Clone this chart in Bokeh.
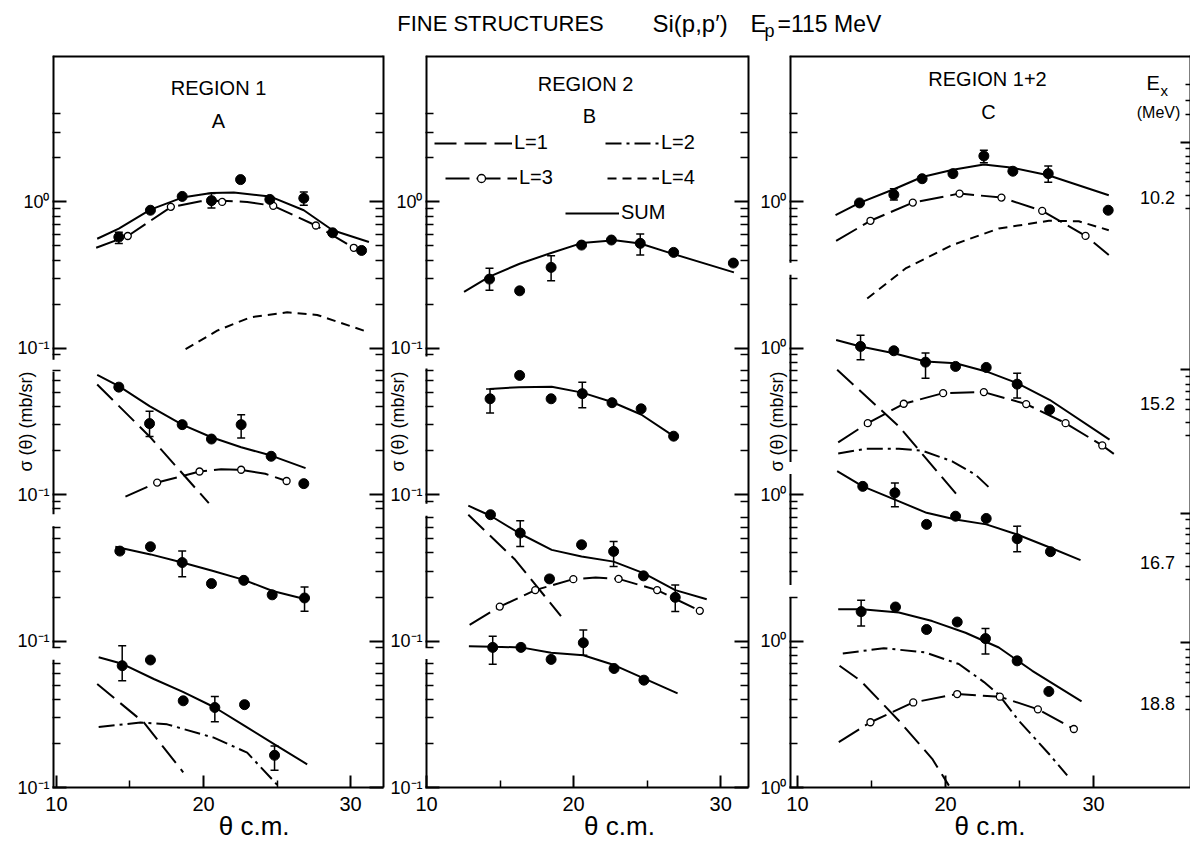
import math
from bokeh.plotting import figure
from bokeh.models import (FixedTicker, LogAxis, Label, Range1d, Whisker, TeeHead,
                          ColumnDataSource, Legend, LegendItem)
from bokeh.core.properties import value
from bokeh.layouts import column, row
from bokeh.embed import file_html
from bokeh.resources import INLINE

# ---------------- categories / tick labels ----------------
EX_LEVELS = ["10.2", "15.2", "16.7", "18.8"]
THETA_TICKS = [10, 20, 30]
THETA_MINOR = [15, 25]
Y_MAJORS = [0.1, 1, 10, 100, 1000]
Y_LABELS_AB = ["10⁻¹", "10⁻¹", "10⁻¹", "10⁻¹", "10⁰"]
Y_LABELS_C = ["10⁰", "10⁰", "10⁰", "10⁰", "10⁰"]
LEGEND_LABELS = ["L=1", "L=2", "L=3", "L=4", "SUM"]

# ---------------- panel A (region 1) ----------------
A_102_x = [14.24, 16.39, 18.55, 20.54, 22.52, 24.51, 26.82, 28.78, 30.75]
A_102_y = [0.575, 0.877, 1.09, 1.02, 1.42, 1.04, 1.06, 0.615, 0.466]
A_102_ex = [14.24, 20.54, 26.82]
A_102_elo = [0.52, 0.91, 0.95]
A_102_ehi = [0.62, 1.14, 1.17]
A_102_sum_x = [12.77, 14.24, 16.39, 18.55, 20.54, 22.06, 24.51, 26.82, 28.78, 31.25]
A_102_sum_y = [0.56, 0.656, 0.885, 1.07, 1.15, 1.16, 1.09, 0.877, 0.64, 0.532]
A_102_L3_x = [12.70, 14.85, 17.78, 19.80, 21.27, 22.97, 24.74, 27.64, 30.22]
A_102_L3_y = [0.486, 0.585, 0.92, 1.01, 1.02, 1.0, 0.94, 0.69, 0.486]
A_102_L3o_x = [14.85, 17.78, 21.27, 24.74, 27.64, 30.22]
A_102_L3o_y = [0.585, 0.925, 1.0, 0.94, 0.69, 0.486]
A_102_L4_x = [18.78, 20.93, 23.2, 25.69, 27.73, 30.9]
A_102_L4_y = [0.0986, 0.132, 0.163, 0.176, 0.169, 0.132]

A_152_x = [14.24, 16.33, 18.55, 20.54, 22.56, 24.6, 26.82]
A_152_y = [0.543, 0.306, 0.301, 0.240, 0.301, 0.183, 0.119]
A_152_ex = [16.33, 22.56]
A_152_elo = [0.25, 0.244]
A_152_ehi = [0.372, 0.352]
A_152_sum_x = [12.77, 14.24, 16.33, 18.55, 20.54, 22.56, 24.6, 26.94]
A_152_sum_y = [0.658, 0.552, 0.403, 0.301, 0.247, 0.211, 0.185, 0.152]
A_152_L1_x = [12.77, 16.33, 20.36]
A_152_L1_y = [0.566, 0.25, 0.0875]
A_152_L3_x = [14.69, 16.85, 19.73, 21.2, 22.56, 24.2, 25.65]
A_152_L3_y = [0.097, 0.121, 0.144, 0.149, 0.148, 0.139, 0.124]
A_152_L3o_x = [16.85, 19.73, 22.56, 25.65]
A_152_L3o_y = [0.121, 0.144, 0.148, 0.124]

A_167_x = [14.31, 16.39, 18.55, 20.54, 22.74, 24.67, 26.87]
A_167_y = [0.412, 0.441, 0.344, 0.247, 0.26, 0.207, 0.197]
A_167_ex = [18.55, 26.87]
A_167_elo = [0.275, 0.16]
A_167_ehi = [0.412, 0.234]
A_167_sum_x = [14.0, 16.4, 18.55, 20.6, 22.74, 24.7, 26.94]
A_167_sum_y = [0.441, 0.391, 0.344, 0.302, 0.262, 0.22, 0.193]

A_188_x = [14.47, 16.39, 18.62, 20.77, 22.79, 24.83]
A_188_y = [0.679, 0.743, 0.391, 0.352, 0.368, 0.166]
A_188_ex = [14.47, 20.77, 24.83]
A_188_elo = [0.536, 0.281, 0.131]
A_188_ehi = [0.93, 0.419, 0.192]
A_188_sum_x = [12.87, 14.47, 16.62, 18.6, 20.77, 22.8, 24.83, 27.05]
A_188_sum_y = [0.776, 0.70, 0.551, 0.45, 0.352, 0.264, 0.197, 0.144]
A_188_L1_x = [12.77, 15.94, 18.62]
A_188_L1_y = [0.509, 0.278, 0.127]
A_188_L2_x = [12.87, 15.71, 17.53, 20.7, 22.97, 25.1]
A_188_L2_y = [0.259, 0.278, 0.27, 0.219, 0.173, 0.102]

# ---------------- panel B (region 2) ----------------
B_102_x = [14.28, 16.33, 18.47, 20.54, 22.57, 24.53, 26.8, 30.86]
B_102_y = [0.297, 0.247, 0.357, 0.507, 0.549, 0.521, 0.452, 0.382]
B_102_ex = [14.28, 18.47, 24.53]
B_102_elo = [0.249, 0.289, 0.433]
B_102_ehi = [0.352, 0.429, 0.604]
B_102_sum_x = [12.55, 14.28, 16.33, 18.47, 20.54, 22.79, 24.53, 26.8, 30.9]
B_102_sum_y = [0.243, 0.309, 0.378, 0.448, 0.523, 0.548, 0.52, 0.44, 0.33]

B_152_x = [14.32, 16.33, 18.47, 20.59, 22.61, 24.59, 26.8]
B_152_y = [0.452, 0.653, 0.452, 0.49, 0.425, 0.386, 0.251]
B_152_ex = [14.32, 20.59]
B_152_elo = [0.362, 0.393]
B_152_ehi = [0.528, 0.586]
B_152_sum_x = [14.28, 16.3, 18.51, 20.59, 22.61, 24.59, 26.8]
B_152_sum_y = [0.528, 0.542, 0.547, 0.498, 0.43, 0.353, 0.251]

B_167_x = [14.35, 16.37, 18.36, 20.54, 22.72, 24.75, 26.91]
B_167_y = [0.73, 0.547, 0.266, 0.455, 0.41, 0.279, 0.199]
B_167_ex = [16.37, 22.72, 26.91]
B_167_elo = [0.443, 0.323, 0.159]
B_167_ehi = [0.664, 0.479, 0.242]
B_167_sum_x = [12.84, 14.35, 16.37, 18.51, 20.54, 22.72, 24.75, 26.91, 29.05]
B_167_sum_y = [0.841, 0.718, 0.541, 0.42, 0.378, 0.349, 0.291, 0.223, 0.193]
B_167_L1_x = [12.84, 16.03, 19.14]
B_167_L1_y = [0.73, 0.359, 0.148]
B_167_L3_x = [12.93, 14.98, 17.39, 19.98, 21.5, 23.06, 25.68, 28.58]
B_167_L3_y = [0.129, 0.172, 0.223, 0.265, 0.272, 0.266, 0.223, 0.161]
B_167_L3o_x = [14.98, 17.39, 19.98, 23.06, 25.68, 28.58]
B_167_L3o_y = [0.172, 0.223, 0.265, 0.266, 0.223, 0.161]

B_188_x = [14.5, 16.42, 18.47, 20.66, 22.75, 24.78]
B_188_y = [0.906, 0.906, 0.75, 0.974, 0.65, 0.541]
B_188_ex = [14.5, 20.66]
B_188_elo = [0.695, 0.80]
B_188_ehi = [1.08, 1.19]
B_188_sum_x = [12.88, 14.5, 16.42, 18.47, 20.66, 22.75, 24.78, 27.07]
B_188_sum_y = [0.924, 0.915, 0.906, 0.832, 0.80, 0.686, 0.556, 0.439]

# ---------------- panel C (region 1+2) ----------------
C_102_x = [14.19, 16.51, 18.42, 20.5, 22.59, 24.55, 26.94, 30.99]
C_102_y = [0.984, 1.12, 1.44, 1.56, 2.06, 1.62, 1.56, 0.877]
C_102_ex = [16.51, 22.59, 26.94]
C_102_elo = [1.03, 1.85, 1.36]
C_102_ehi = [1.23, 2.25, 1.76]
C_102_sum_x = [12.57, 14.19, 16.51, 18.42, 20.5, 22.59, 24.55, 26.94, 31.03]
C_102_sum_y = [0.811, 0.984, 1.22, 1.48, 1.66, 1.80, 1.71, 1.52, 1.11]
C_102_L3_x = [12.61, 14.93, 17.79, 20.95, 23.78, 26.53, 29.46, 31.03]
C_102_L3_y = [0.542, 0.743, 0.989, 1.14, 1.07, 0.869, 0.586, 0.434]
C_102_L3o_x = [14.93, 17.79, 20.95, 23.78, 26.53, 29.46]
C_102_L3o_y = [0.743, 0.989, 1.14, 1.07, 0.869, 0.586]
C_102_L4_x = [14.71, 17.3, 20.45, 23.6, 26.98, 29.0, 31.03]
C_102_L4_y = [0.219, 0.351, 0.507, 0.658, 0.743, 0.737, 0.641]

C_152_x = [14.26, 16.51, 18.65, 20.68, 22.75, 24.84, 27.03]
C_152_y = [1.03, 0.962, 0.804, 0.752, 0.74, 0.569, 0.381]
C_152_ex = [14.26, 18.65, 24.84]
C_152_elo = [0.834, 0.625, 0.457]
C_152_ehi = [1.23, 0.927, 0.676]
C_152_sum_x = [12.61, 14.26, 16.51, 18.65, 20.68, 22.75, 24.84, 27.03, 31.08]
C_152_sum_y = [1.14, 1.03, 0.925, 0.813, 0.79, 0.695, 0.578, 0.445, 0.238]
C_152_L1_x = [12.68, 16.85, 20.95]
C_152_L1_y = [0.713, 0.293, 0.095]
C_152_L2_x = [12.75, 14.6, 16.85, 18.42, 20.45, 22.03, 23.11]
C_152_L2_y = [0.191, 0.206, 0.206, 0.2, 0.169, 0.137, 0.108]
C_152_L3_x = [12.75, 14.75, 17.18, 19.84, 22.59, 25.45, 28.11, 30.59, 31.37]
C_152_L3_y = [0.228, 0.308, 0.418, 0.494, 0.502, 0.416, 0.308, 0.217, 0.19]
C_152_L3o_x = [14.75, 17.18, 19.84, 22.59, 25.45, 28.11, 30.59]
C_152_L3o_y = [0.308, 0.418, 0.494, 0.502, 0.416, 0.308, 0.217]

C_167_x = [14.41, 16.58, 18.72, 20.68, 22.75, 24.84, 27.09]
C_167_y = [1.14, 1.03, 0.627, 0.713, 0.688, 0.5, 0.408]
C_167_ex = [16.58, 24.84]
C_167_elo = [0.826, 0.408]
C_167_ehi = [1.2, 0.61]
C_167_sum_x = [12.68, 14.41, 16.58, 18.72, 20.68, 22.75, 24.84, 27.09, 29.12]
C_167_sum_y = [1.45, 1.14, 0.925, 0.752, 0.678, 0.627, 0.535, 0.434, 0.357]

C_188_x = [14.3, 16.62, 18.72, 20.79, 22.7, 24.84, 26.98]
C_188_y = [1.59, 1.71, 1.2, 1.35, 1.04, 0.733, 0.453]
C_188_ex = [14.3, 22.7]
C_188_elo = [1.27, 0.815]
C_188_ehi = [1.9, 1.22]
C_188_sum_x = [12.75, 14.35, 16.85, 19.1, 21.35, 23.6, 25.86, 29.19]
C_188_sum_y = [1.65, 1.65, 1.57, 1.37, 1.14, 0.904, 0.627, 0.387]
C_188_L1_x = [12.84, 14.26, 16.85, 19.1, 20.23]
C_188_L1_y = [0.678, 0.536, 0.286, 0.157, 0.103]
C_188_L2_x = [13.06, 15.83, 18.65, 20.9, 22.6, 23.6, 24.95, 26.98, 28.22]
C_188_L2_y = [0.822, 0.895, 0.836, 0.697, 0.525, 0.43, 0.286, 0.17, 0.121]
C_188_L3_x = [12.79, 14.93, 17.82, 20.79, 23.67, 26.24, 28.67]
C_188_L3_y = [0.204, 0.279, 0.381, 0.435, 0.417, 0.342, 0.251]
C_188_L3o_x = [14.93, 17.82, 20.79, 23.67, 26.24, 28.67]
C_188_L3o_y = [0.279, 0.381, 0.435, 0.417, 0.342, 0.251]

# ---------------- styling / layout ----------------
FONT = "Liberation Sans"
DASH = {"L1": "22 8", "L2": "16 5 3 5", "L3": "24 7", "L4": "9 6", "SUM": "solid"}
SHIFT = {"10.2": 1000, "15.2": 100, "16.7": 10, "18.8": 1}   # decade offsets of the stacked blocks
HDR_H = 54
FRAME_TOP = 55          # page px
FRAME_BOT = 787         # page px
FRAME_H = FRAME_BOT - FRAME_TOP
FIG_H = 791
NAN = float("nan")
GAP = 10 ** (6 * 5.0 / FRAME_H)     # half-gap (6 px) of an axis break, as a factor
NBSP = "\u00a0"


def style_axis(ax, maj, mnr):
    ax.axis_line_width = 2
    ax.axis_line_color = "black"
    ax.major_tick_in = maj
    ax.major_tick_out = 0
    ax.minor_tick_in = mnr
    ax.minor_tick_out = 0
    ax.major_tick_line_width = 2
    ax.minor_tick_line_width = 1.5
    ax.major_label_text_font = FONT
    ax.major_label_text_color = "black"


def minor_list(breaks, top=4500):
    out = []
    for d in range(-1, 4):
        for m in range(2, 10):
            v = m * 10 ** d
            if v > top:
                continue
            if any(abs(math.log10(v) - math.log10(b)) < 0.035 for b in breaks):
                continue
            out.append(v)
    return out


class Panel:
    def __init__(self, x_range, frame_left, frame_w, b_left, b_right, y_labels, breaks,
                 sig_standoff, th_pad):
        self.x0, self.x1 = x_range
        self.fl = frame_left
        self.fw = frame_w
        p = figure(width=b_left + frame_w + b_right, height=FIG_H,
                   x_range=Range1d(*x_range), y_range=Range1d(0.1, 1e4),
                   y_axis_type="log", output_backend="svg", toolbar_location=None,
                   min_border_left=b_left, min_border_right=b_right,
                   min_border_top=FRAME_TOP - HDR_H,
                   min_border_bottom=FIG_H - (FRAME_BOT - HDR_H))
        p.grid.visible = False
        p.outline_line_color = None
        p.background_fill_color = "white"
        p.border_fill_color = "white"
        xa = p.xaxis[0]
        xa.ticker = FixedTicker(ticks=THETA_TICKS, minor_ticks=THETA_MINOR)
        style_axis(xa, 12, 7)
        xa.major_label_text_font_size = "20px"
        xa.major_label_standoff = 9
        xa.axis_label = NBSP * th_pad + "θ c.m."
        xa.axis_label_text_font = FONT
        xa.axis_label_text_font_size = "26px"
        xa.axis_label_text_font_style = "normal"
        xa.axis_label_text_color = "black"
        xa.axis_label_standoff = -3
        ya = p.yaxis[0]
        ya.ticker = FixedTicker(ticks=Y_MAJORS, minor_ticks=minor_list(breaks))
        style_axis(ya, 14, 8)
        ya.axis_line_color = None            # left frame is drawn with breaks below
        ya.major_label_overrides = dict(zip(Y_MAJORS, y_labels))
        ya.major_label_text_font_size = "18px"
        ya.major_label_standoff = 3
        ya.axis_label = "σ (θ) (mb/sr)"
        ya.axis_label_text_font = FONT
        ya.axis_label_text_font_size = "18px"
        ya.axis_label_text_font_style = "normal"
        ya.axis_label_text_color = "black"
        ya.axis_label_standoff = sig_standoff
        self.p = p
        # broken left frame line and top frame line
        bs = sorted(breaks)
        lows = [0.1] + [b * GAP for b in bs]
        highs = [b / GAP for b in bs] + [1e4]
        p.segment(x0=[self.x0] * len(lows), y0=lows, x1=[self.x0] * len(lows), y1=highs,
                  line_color="black", line_width=4)
        p.segment(x0=[self.x0], y0=[1e4], x1=[self.x1], y1=[1e4], line_color="black",
                  line_width=4)

    def txt(self, px, py, t, size, align="center", baseline="middle", angle=0, style="normal"):
        self.p.add_layout(Label(x=px - self.fl, y=FRAME_BOT - py, x_units="screen",
                                y_units="screen", text=t, text_font=FONT,
                                text_font_size=size, text_align=align, text_baseline=baseline,
                                angle=angle, text_font_style=style, text_color="black"))

    def add_right(self, majors, minors, maj=14, mnr=8):
        ra = LogAxis(ticker=FixedTicker(ticks=majors, minor_ticks=minors))
        style_axis(ra, maj, mnr)
        ra.major_label_overrides = {m: "" for m in majors}
        ra.major_label_standoff = 0
        self.p.add_layout(ra, "right")

    def group(self, shift, px_, py_, ex, elo, ehi, sx, sy, comps):
        p = self.p
        for kind, cx, cy, ox, oy in comps:
            p.line(cx, [v * shift for v in cy], line_color="black", line_width=2,
                   line_dash=DASH[kind])
            if ox:
                p.scatter(ox, [v * shift for v in oy], marker="circle", size=7,
                          fill_color="white", line_color="black", line_width=1.3)
        p.line(sx, [v * shift for v in sy], line_color="black", line_width=2)
        p.scatter(px_, [v * shift for v in py_], marker="circle", size=10,
                  fill_color="black", line_color="black")
        if ex:
            src = ColumnDataSource(dict(x=ex, lo=[v * shift for v in elo],
                                        hi=[v * shift for v in ehi]))
            p.add_layout(Whisker(base="x", lower="lo", upper="hi", source=src, line_width=1.5,
                                 line_color="black",
                                 lower_head=TeeHead(size=8, line_width=1.5, line_color="black"),
                                 upper_head=TeeHead(size=8, line_width=1.5, line_color="black")))


# ---------------- header ----------------
hdr = figure(width=1190, height=HDR_H, x_range=Range1d(0, 1190), y_range=Range1d(0, HDR_H),
             output_backend="svg", toolbar_location=None, min_border=0,
             x_axis_location=None, y_axis_location=None)
hdr.outline_line_color = None
hdr.grid.visible = False
for hx, hy, ht, hs, ha in [(500, 23, "FINE STRUCTURES", "22px", "center"),
                           (652, 23, "Si(p,p′)", "24px", "left"),
                           (750, 23, "E", "24px", "left"),
                           (764, 30, "p", "18px", "left"),
                           (777, 23, "=115 MeV", "23px", "left")]:
    hdr.add_layout(Label(x=hx, y=HDR_H - hy, text=ht, text_font=FONT, text_font_size=hs,
                         text_align=ha, text_baseline="alphabetic", text_color="black"))

# ---------------- panel A ----------------
A = Panel((9.73, 32.24), 52, 331, 52, 2, Y_LABELS_AB, [76, 6.7, 0.82], -22, 10)
A.add_right(Y_MAJORS, minor_list([76, 6.7, 0.82]))
A.group(SHIFT["10.2"], A_102_x, A_102_y, A_102_ex, A_102_elo, A_102_ehi,
        A_102_sum_x, A_102_sum_y,
        [("L3", A_102_L3_x, A_102_L3_y, A_102_L3o_x, A_102_L3o_y),
         ("L4", A_102_L4_x, A_102_L4_y, None, None)])
A.group(SHIFT["15.2"], A_152_x, A_152_y, A_152_ex, A_152_elo, A_152_ehi,
        A_152_sum_x, A_152_sum_y,
        [("L1", A_152_L1_x, A_152_L1_y, None, None),
         ("L3", A_152_L3_x, A_152_L3_y, A_152_L3o_x, A_152_L3o_y)])
A.group(SHIFT["16.7"], A_167_x, A_167_y, A_167_ex, A_167_elo, A_167_ehi,
        A_167_sum_x, A_167_sum_y, [])
A.group(SHIFT["18.8"], A_188_x, A_188_y, A_188_ex, A_188_elo, A_188_ehi,
        A_188_sum_x, A_188_sum_y,
        [("L1", A_188_L1_x, A_188_L1_y, None, None),
         ("L2", A_188_L2_x, A_188_L2_y, None, None)])
A.txt(218, 87, "REGION 1", "20px")
A.txt(218, 120, "A", "20px")

# ---------------- panel B ----------------
B = Panel((9.93, 31.89), 423, 325, 38, 5, Y_LABELS_AB, [80, 7.9, 0.83], -21, 9)
B.add_right(Y_MAJORS, minor_list([80, 7.9, 0.83]))
B.group(SHIFT["10.2"], B_102_x, B_102_y, B_102_ex, B_102_elo, B_102_ehi,
        B_102_sum_x, B_102_sum_y, [])
B.group(SHIFT["15.2"], B_152_x, B_152_y, B_152_ex, B_152_elo, B_152_ehi,
        B_152_sum_x, B_152_sum_y, [])
B.group(SHIFT["16.7"], B_167_x, B_167_y, B_167_ex, B_167_elo, B_167_ehi,
        B_167_sum_x, B_167_sum_y,
        [("L1", B_167_L1_x, B_167_L1_y, None, None),
         ("L3", B_167_L3_x, B_167_L3_y, B_167_L3o_x, B_167_L3o_y)])
B.group(SHIFT["18.8"], B_188_x, B_188_y, B_188_ex, B_188_elo, B_188_ehi,
        B_188_sum_x, B_188_sum_y, [])
B.txt(583, 83, "REGION 2", "20px")
B.txt(587, 115, "B", "20px")

# legend: library legends, one entry each, placed like the original key
def legend_entry(pan, label, rends, glyph_left_px, center_py, gw):
    pan.p.add_layout(Legend(items=[LegendItem(label=value(label), renderers=rends)],
                            location=(glyph_left_px - pan.fl, FRAME_BOT - center_py - 11),
                            glyph_width=gw, glyph_height=20, label_standoff=2, padding=0,
                            margin=0, spacing=0, border_line_color=None,
                            background_fill_alpha=0, label_text_font=FONT,
                            label_text_color="black",
                            label_text_font_size="20px", label_height=20))

lr = {k: B.p.line([NAN], [NAN], line_color="black", line_width=2, line_dash=DASH[k])
      for k in ["L1", "L2", "L3", "L4", "SUM"]}
lc = B.p.scatter([NAN], [NAN], marker="circle", size=7, fill_color="white",
                 line_color="black", line_width=1.3)
legend_entry(B, LEGEND_LABELS[0], [lr["L1"]], 432, 143, 78)
legend_entry(B, LEGEND_LABELS[1], [lr["L2"]], 603, 143, 54)
legend_entry(B, LEGEND_LABELS[2], [lr["L3"], lc], 443, 178, 72)
legend_entry(B, LEGEND_LABELS[3], [lr["L4"]], 605, 178, 52)
legend_entry(B, LEGEND_LABELS[4], [lr["SUM"]], 563, 213, 54)

# ---------------- panel C ----------------
C = Panel((9.46, 36.55), 789, 401, 36, 0, Y_LABELS_C, [349, 15.2, 2.2], -30, 0)
C_RIGHT_MAJ = [3.409, 1.855, 0.874, -0.012]
C_RIGHT_OFF = [0.046, 0.102, 0.147, 0.205, 0.273, 0.363, 0.454]
c_right_minor = [10 ** v for v in (3.804, 3.695, 3.600)] + \
    [10 ** (m - o) for m in C_RIGHT_MAJ for o in C_RIGHT_OFF if m - o > -1]
C.add_right([10 ** v for v in C_RIGHT_MAJ], c_right_minor, 10, 5)
C.group(SHIFT["10.2"], C_102_x, C_102_y, C_102_ex, C_102_elo, C_102_ehi,
        C_102_sum_x, C_102_sum_y,
        [("L3", C_102_L3_x, C_102_L3_y, C_102_L3o_x, C_102_L3o_y),
         ("L4", C_102_L4_x, C_102_L4_y, None, None)])
C.group(SHIFT["15.2"], C_152_x, C_152_y, C_152_ex, C_152_elo, C_152_ehi,
        C_152_sum_x, C_152_sum_y,
        [("L1", C_152_L1_x, C_152_L1_y, None, None),
         ("L2", C_152_L2_x, C_152_L2_y, None, None),
         ("L3", C_152_L3_x, C_152_L3_y, C_152_L3o_x, C_152_L3o_y)])
C.group(SHIFT["16.7"], C_167_x, C_167_y, C_167_ex, C_167_elo, C_167_ehi,
        C_167_sum_x, C_167_sum_y, [])
C.group(SHIFT["18.8"], C_188_x, C_188_y, C_188_ex, C_188_elo, C_188_ehi,
        C_188_sum_x, C_188_sum_y,
        [("L1", C_188_L1_x, C_188_L1_y, None, None),
         ("L2", C_188_L2_x, C_188_L2_y, None, None),
         ("L3", C_188_L3_x, C_188_L3_y, C_188_L3o_x, C_188_L3o_y)])
C.txt(987, 78, "REGION 1+2", "20px")
C.txt(988, 111, "C", "20px")
C.txt(1146, 82, "E", "20px", align="left")
C.txt(1160, 90, "x", "15px", align="left")
C.txt(1158, 112, "(MeV)", "16px")
for lvl, py in zip(EX_LEVELS, [197, 403, 562, 703]):
    C.txt(1157, py, lvl, "18px")

layout = column(hdr, row(A.p, B.p, C.p))
open("out.html", "w").write(file_html(layout, INLINE))
